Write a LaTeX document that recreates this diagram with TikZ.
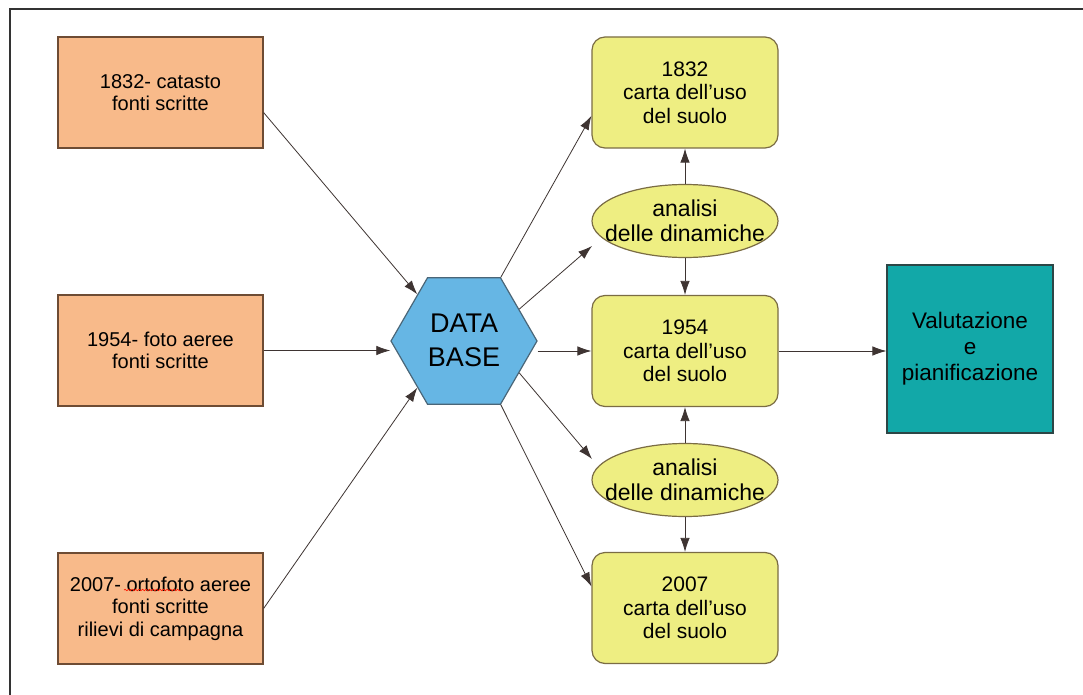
\documentclass[tikz,border=0pt]{standalone}
\usepackage{fontspec}
\setmainfont{Liberation Sans}
\usetikzlibrary{shapes.geometric,arrows.meta,decorations.pathmorphing}
\definecolor{orfill}{HTML}{F8BA8A}
\definecolor{orbord}{HTML}{6E4C34}
\definecolor{yefill}{HTML}{EEEE82}
\definecolor{yebord}{HTML}{7A6C44}
\definecolor{hxfill}{HTML}{66B6E4}
\definecolor{hxbord}{HTML}{4A6678}
\definecolor{tefill}{HTML}{12A8A8}
\definecolor{tebord}{HTML}{2C4646}
\definecolor{arrcol}{HTML}{3E3432}
\newcommand{\zbox}[2]{\smash{\makebox[0pt]{\raisebox{#1}{#2}}}}
\begin{document}
\begin{tikzpicture}[x=1pt,y=-1pt,
  srcbox/.style={draw=orbord, fill=orfill, line width=1.2pt, minimum width=205pt, minimum height=111pt, inner sep=0pt, align=center, font=\fontsize{20}{22.5}\selectfont},
  mapbox/.style={draw=yebord, fill=yefill, line width=1.2pt, rounded corners=13pt, minimum width=186pt, minimum height=111pt, inner sep=0pt, align=center, font=\fontsize{21}{23.5}\selectfont},
  anabox/.style={ellipse, draw=yebord, fill=yefill, line width=1.2pt, minimum width=186pt, minimum height=73pt, inner sep=0pt, font=\fontsize{23}{25}\selectfont},
  hexbox/.style={regular polygon, regular polygon sides=6, draw=hxbord, fill=hxfill, line width=1.2pt, minimum size=146pt, inner sep=0pt, font=\fontsize{27}{34}\selectfont},
  evalbox/.style={draw=tebord, fill=tefill, line width=1.2pt, minimum width=166pt, minimum height=168pt, inner sep=0pt, align=center, font=\fontsize{22.5}{26}\selectfont},
  arr/.style={draw=arrcol, line width=0.8pt, -{Latex[length=14pt,width=9.5pt]}}
]
\useasboundingbox (0,0) rectangle (1083,695);
\fill[white] (0,0) rectangle (1083,695);
\draw[line width=1.5pt, black!80] (10,695) -- (10,9) -- (1083,9);

% sources
\node[srcbox] (o1) at (160.5,92.5) {1832- catasto\\fonti scritte};
\node[srcbox] (o2) at (160.5,350.5) {1954- foto aeree\\fonti scritte};
\node[srcbox] (o3) at (160.5,608.5) {2007- ortofoto aeree\\fonti scritte\\rilievi di campagna};
\draw[red!80!orange, line width=0.7pt, decorate, decoration={snake, amplitude=0.7pt, segment length=3.5pt}] (124,590) -- (182,590);

% database
\node[hexbox] (hex) at (464,341) {\zbox{-8pt}{\begin{tabular}{@{}c@{}}DATA\\BASE\end{tabular}}};

% maps
\node[mapbox] (m1) at (685,92.5) {1832\\carta dell'uso\\del suolo};
\node[mapbox] (m2) at (685,351) {1954\\carta dell'uso\\del suolo};
\node[mapbox] (m3) at (685,608) {2007\\carta dell'uso\\del suolo};

% analyses
\node[anabox] (a1) at (685,221) {\zbox{-9pt}{\begin{tabular}{@{}c@{}}analisi\\delle dinamiche\end{tabular}}};
\node[anabox] (a2) at (685,480) {\zbox{-9pt}{\begin{tabular}{@{}c@{}}analisi\\delle dinamiche\end{tabular}}};

% evaluation
\node[evalbox] (ev) at (970,349) {Valutazione\\e\\pianificazione};

\coordinate (t1) at (592,246);
\coordinate (t2) at (592,459);

% connectors
\draw[arr] (o1.-11) -- (hex.135);
\draw[arr] (o2.east) -- (o2.east -| hex.west);
\draw[arr] (o3.east) -- (hex.225);
\draw[arr] (hex.60) -- (m1.194);
\draw[arr] (hex.30) -- (t1);
\draw[arr] (hex.east |- m2.west) -- (m2.west);
\draw[arr] (hex.-30) -- (t2);
\draw[arr] (hex.-60) -- (m3.167);
\draw[arr] (a1.north) -- (m1.south);
\draw[arr] (a1.south) -- (m2.north);
\draw[arr] (a2.north) -- (m2.south);
\draw[arr] (a2.south) -- (m3.north);
\draw[arr] (m2.east) -- (m2.east -| ev.west);
\end{tikzpicture}
\end{document}
